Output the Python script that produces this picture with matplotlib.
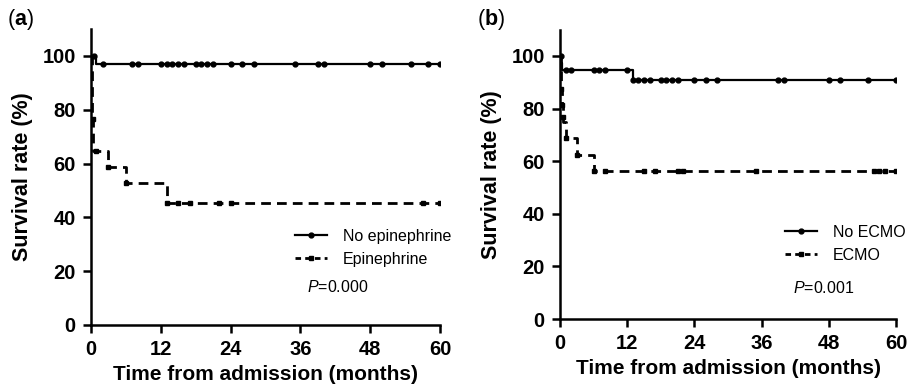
import numpy as np
import matplotlib
matplotlib.use('Agg')
import matplotlib.pyplot as plt

plt.rcParams.update({
    'font.family': 'Liberation Sans',
    'mathtext.fontset': 'custom',
    'mathtext.rm': 'Liberation Sans',
    'mathtext.it': 'Liberation Sans:italic',
    'mathtext.bf': 'Liberation Sans:bold',
})

# ---- panel (a) data ----
a_no_t = [0, 0.8, 60]
a_no_s = [100, 97.0, 97.0]
a_no_cens_t = [0.5, 2, 7, 8, 12, 13, 14, 15, 16, 18, 19, 20, 21, 24, 26, 28,
               35, 39, 40, 48, 50, 55, 58, 60]
a_no_cens_s = [100] + [97.0] * 23

a_epi_t = [0, 0.1, 0.2, 0.35, 3.0, 6.0, 13.0, 60]
a_epi_s = [100, 94.1, 76.5, 64.7, 58.8, 52.9, 45.4, 45.4]
a_epi_cens_t = [0.3, 0.8, 3.0, 6.0, 13.0, 15, 17, 22, 24, 57, 60]
a_epi_cens_s = [76.5, 64.7, 58.8, 52.9, 45.4, 45.4, 45.4, 45.4, 45.4, 45.4, 45.4]

# ---- panel (b) data ----
b_no_t = [0, 0.15, 0.4, 13.0, 60]
b_no_s = [100, 97.4, 94.7, 90.8, 90.8]
b_no_cens_t = [0.1, 1, 2, 6, 7, 8, 12, 13, 14, 15, 16, 18, 19, 20, 21, 24, 26, 28,
               39, 40, 48, 50, 55, 60]
b_no_cens_s = [100, 94.7, 94.7, 94.7, 94.7, 94.7, 94.7] + [90.8] * 17

b_ecmo_t = [0, 0.1, 0.2, 0.3, 0.5, 1.0, 3.0, 6.0, 60]
b_ecmo_s = [100, 93.8, 87.5, 81.3, 75.0, 68.8, 62.5, 56.3, 56.3]
b_ecmo_cens_t = [0.2, 0.3, 0.5, 1.0, 3.0, 6.0, 8, 15, 17, 21, 22, 35, 56, 57, 58, 60]
b_ecmo_cens_s = [87.5, 81.3, 76.9, 68.8, 62.5] + [56.3] * 11

xticks = [0, 12, 24, 36, 48, 60]
yticks = [0, 20, 40, 60, 80, 100]

fig = plt.figure(figsize=(9.07, 3.9), dpi=100)
ax_a = fig.add_axes([0.1003, 0.1667, 0.3848, 0.759])
ax_b = fig.add_axes([0.6174, 0.182, 0.3705, 0.742])


def draw_panel(ax, t1, s1, c1t, c1s, t2, s2, c2t, c2s, lab1, lab2, ptxt, leg_anchor, p_xy):
    ax.step(t1, s1, where='post', color='black', lw=1.6)
    ax.plot(c1t, c1s, 'o', color='black', ms=3.5, zorder=3)
    ax.step(t2, s2, where='post', color='black', lw=2.0, ls=(0, (3.5, 2.2)))
    ax.plot(c2t, c2s, 's', color='black', ms=3.5, zorder=3)

    # legend proxies with markers
    h1, = ax.plot([], [], '-o', color='black', lw=1.6, ms=3.5)
    h2, = ax.plot([], [], color='black', lw=2.0, ls=(0, (2, 1.5)), marker='s', ms=3.5)
    ax.legend([h1, h2], [lab1, lab2], loc='center left',
              bbox_to_anchor=leg_anchor, frameon=False, fontsize=11.5,
              handlelength=2.0, handletextpad=1.0, labelspacing=0.5,
              borderpad=0, borderaxespad=0, numpoints=1)
    ax.text(p_xy[0], p_xy[1], ptxt, fontsize=11.5, transform=ax.transData,
            va='center', ha='left')

    ax.set_xlim(0, 60)
    ax.set_ylim(0, 110)
    ax.set_xticks(xticks)
    ax.set_yticks(yticks)
    for s in ['top', 'right']:
        ax.spines[s].set_visible(False)
    for s in ['left', 'bottom']:
        ax.spines[s].set_linewidth(1.8)
    ax.tick_params(width=1.8, length=6, labelsize=14.5, direction='out', pad=5)
    for lbl in ax.get_xticklabels() + ax.get_yticklabels():
        lbl.set_fontweight('bold')
    ax.set_xlabel('Time from admission (months)', fontsize=15, fontweight='bold',
                  labelpad=4)
    ax.set_ylabel('Survival rate (%)', fontsize=15.5, fontweight='bold', labelpad=7)


draw_panel(ax_a, a_no_t, a_no_s, a_no_cens_t, a_no_cens_s,
           a_epi_t, a_epi_s, a_epi_cens_t, a_epi_cens_s,
           'No epinephrine', 'Epinephrine', r'$\mathit{P}$=0.000',
           (0.585, 0.26), (37.1, 14.1))
draw_panel(ax_b, b_no_t, b_no_s, b_no_cens_t, b_no_cens_s,
           b_ecmo_t, b_ecmo_s, b_ecmo_cens_t, b_ecmo_cens_s,
           'No ECMO', 'ECMO', r'$\mathit{P}$=0.001',
           (0.67, 0.26), (41.6, 11.8))

fig.text(7 / 907, 1 - 20 / 390, r'($\mathbf{a}$)', fontsize=15.5, va='center')
fig.text(477 / 907, 1 - 20 / 390, r'($\mathbf{b}$)', fontsize=15.5, va='center')

fig.savefig('out.png', dpi=100)
